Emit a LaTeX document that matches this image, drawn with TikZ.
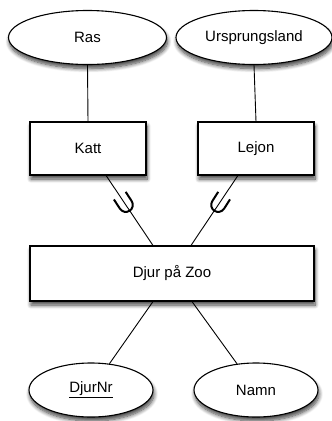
\documentclass[tikz,border=0pt]{standalone}
\usepackage{fontspec}
\setmainfont{Liberation Sans}
\usetikzlibrary{shapes.geometric,shadows.blur,calc}
\begin{document}
\begin{tikzpicture}[x=1pt,y=1pt,
  font=\fontsize{15}{17}\selectfont,
  shad/.style={blur shadow={shadow xshift=1pt, shadow yshift=-4pt, shadow blur radius=4pt, shadow opacity=75, shadow blur steps=8}},
  ent/.style={draw, line width=1.1pt, fill=white, inner sep=0pt, shad},
  attr/.style={draw, ellipse, line width=1.1pt, fill=white, inner sep=0pt, minimum height=54pt, shad},
  conn/.style={line width=0.9pt},
  subset/.style={line width=2pt}]
\useasboundingbox (0,0) rectangle (332,-421);
\node[attr, minimum width=158pt] (ras) at (87.5,-37.5) {Ras};
\node[attr, minimum width=156pt] (urs) at (254,-37.5) {Ursprungsland};
\node[ent, minimum width=116pt, minimum height=53pt] (katt) at (88,-148.5) {Katt};
\node[ent, minimum width=116pt, minimum height=53pt] (lejon) at (256,-148.5) {Lejon};
\node[ent, minimum width=284pt, minimum height=55pt] (djur) at (172,-273.5) {Djur på Zoo};
\node[attr, minimum width=124pt] (djurnr) at (91,-390) {\underline{DjurNr}};
\node[attr, minimum width=124pt] (namn) at (256,-390) {Namn};
\draw[conn] (ras.south) -- (katt.north);
\draw[conn] (urs.south) -- (lejon.north);
\draw[conn] (katt) -- ($(djur.north)+(-19,0)$) coordinate[pos=0.42] (u1);
\draw[conn] (lejon) -- ($(djur.north)+(19,0)$) coordinate[pos=0.42] (u2);
\draw[conn] ($(djur.south)+(-19,0)$) -- (djurnr);
\draw[conn] ($(djur.south)+(20,0)$) -- (namn);
\begin{scope}[shift={(u1)}, rotate=33]
  \draw[subset] (-7,11) -- (-7,0) arc (180:360:7) -- (7,11);
\end{scope}
\begin{scope}[shift={(u2)}, rotate=-32.5]
  \draw[subset] (-7,11) -- (-7,0) arc (180:360:7) -- (7,11);
\end{scope}
\end{tikzpicture}
\end{document}
